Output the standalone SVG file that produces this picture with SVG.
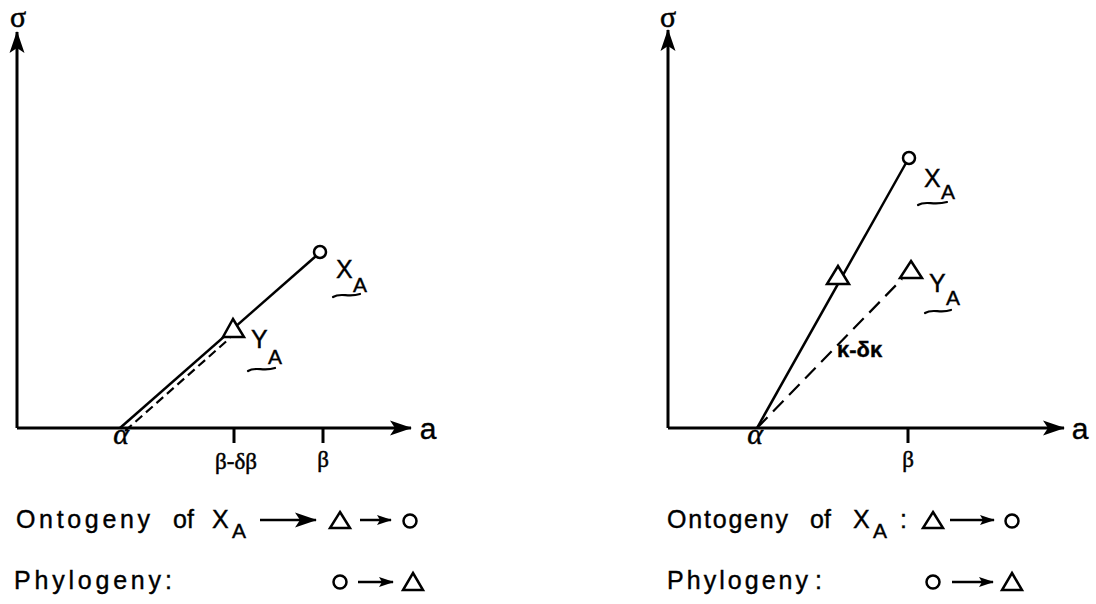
<svg xmlns="http://www.w3.org/2000/svg" width="1096" height="604" viewBox="0 0 1096 604">
<style>
.ax{stroke:#000;stroke-width:3;fill:none}
.ln{stroke:#000;stroke-width:2.5;fill:none}
.dash{stroke:#000;stroke-width:2.2;fill:none}
.sym{stroke:#000;stroke-width:2.5;fill:#fff}
.t{font-family:"Liberation Sans",Arial,sans-serif;fill:#000;stroke:#000;stroke-width:0.4}
.g{font-family:"Liberation Serif","DejaVu Serif",serif;fill:#000;stroke:#000;stroke-width:0.5}
.tl{stroke:#000;stroke-width:2.2;fill:none;stroke-linecap:round}
</style>
<defs>
<marker id="axA" markerUnits="userSpaceOnUse" markerWidth="24" markerHeight="16" refX="21" refY="8" orient="auto">
<path d="M0,0.5 L22,8 L0,15.5 L5,8 Z" fill="#000"/>
</marker>
<marker id="smA" markerUnits="userSpaceOnUse" markerWidth="16" markerHeight="12" refX="14" refY="6" orient="auto">
<path d="M0,1 L15,6 L0,11 L3,6 Z" fill="#000"/>
</marker>
</defs>
<rect width="1096" height="604" fill="#fff"/>

<g id="left-axes">
<line class="ax" x1="17" y1="428" x2="17" y2="32" marker-end="url(#axA)"/>
<line class="ax" x1="17" y1="428" x2="411" y2="428" marker-end="url(#axA)"/>
<line class="ax" x1="234" y1="428" x2="234" y2="443"/>
<line class="ax" x1="323" y1="428" x2="323" y2="443"/>
<text class="g" x="18" y="27" font-size="30" text-anchor="middle">σ</text>
<text class="t" x="428" y="439" font-size="30" text-anchor="middle">a</text>
<text class="g" x="121" y="444" font-size="30" font-style="italic" text-anchor="middle">α</text>
<text class="g" x="236" y="469" font-size="23" text-anchor="middle">β-δβ</text>
<text class="g" x="323" y="467" font-size="23" text-anchor="middle">β</text>
</g>

<g id="left-lines">
<line class="ln" x1="120" y1="428" x2="316" y2="256"/>
<line class="dash" x1="125" y1="431" x2="230" y2="338" stroke-dasharray="9,5"/>
</g>

<g id="left-XA">
<circle class="sym" cx="320" cy="252" r="6"/>
<text class="t" x="336" y="278" font-size="25">X</text>
<text class="t" x="353" y="292" font-size="21">A</text>
<path class="tl" d="M333,297 C341,292 348,298 360,294"/>
</g>

<g id="left-YA">
<polygon class="sym" points="233,319 244,337 223,337"/>
<text class="t" x="251" y="348" font-size="25">Y</text>
<text class="t" x="268" y="364" font-size="21">A</text>
<path class="tl" d="M248,371 C256,366 263,372 275,368"/>
</g>

<g id="left-legend">
<text class="t" x="16" y="528" font-size="25" textLength="134" lengthAdjust="spacing">Ontogeny</text>
<text class="t" x="173" y="528" font-size="25">of</text>
<text class="t" x="212" y="528" font-size="25">X</text>
<text class="t" x="232" y="538" font-size="21">A</text>
<line class="ln" x1="260" y1="520" x2="316" y2="520" stroke-width="2" marker-end="url(#axA)"/>
<polygon class="sym" stroke-width="2" points="340,512 350,528 330,528"/>
<line class="ln" x1="360" y1="520" x2="391" y2="520" stroke-width="2" marker-end="url(#smA)"/>
<circle class="sym" cx="410" cy="521" r="6.5" stroke-width="3"/>
<text class="t" x="14" y="589" font-size="25" textLength="147" lengthAdjust="spacing">Phylogeny</text>
<text class="t" x="165" y="589" font-size="25">:</text>
<circle class="sym" cx="340" cy="582" r="6.5" stroke-width="3"/>
<line class="ln" x1="358" y1="582" x2="393" y2="582" stroke-width="2" marker-end="url(#smA)"/>
<polygon class="sym" stroke-width="2" points="413,573 423,590 403,590"/>
</g>

<g id="right-axes">
<line class="ax" x1="668" y1="428" x2="668" y2="30" marker-end="url(#axA)"/>
<line class="ax" x1="668" y1="428" x2="1064" y2="428" marker-end="url(#axA)"/>
<line class="ax" x1="908" y1="428" x2="908" y2="443"/>
<text class="g" x="668" y="27" font-size="30" text-anchor="middle">σ</text>
<text class="t" x="1080" y="439" font-size="30" text-anchor="middle">a</text>
<text class="g" x="755" y="444" font-size="30" font-style="italic" text-anchor="middle">α</text>
<text class="g" x="908" y="467" font-size="23" text-anchor="middle">β</text>
<text class="t" x="837" y="357" font-size="22" font-weight="bold">κ-δκ</text>
</g>

<g id="right-lines">
<line class="ln" x1="757" y1="428" x2="906" y2="163"/>
<line class="dash" x1="757" y1="428" x2="902" y2="279" stroke-dasharray="15,8"/>
</g>

<g id="right-XA">
<circle class="sym" cx="909" cy="158" r="6"/>
<text class="t" x="924" y="187" font-size="25">X</text>
<text class="t" x="941" y="199" font-size="21">A</text>
<path class="tl" d="M918,205 C926,200 933,206 947,202"/>
</g>

<g id="right-YA-mid">
<polygon class="sym" points="838,266 849,284 827,284"/>
</g>

<g id="right-YA">
<polygon class="sym" points="911,261 922,278 900,278"/>
<text class="t" x="929" y="292" font-size="25">Y</text>
<text class="t" x="946" y="305" font-size="21">A</text>
<path class="tl" d="M925,313 C933,308 940,314 951,310"/>
</g>

<g id="right-legend">
<text class="t" x="667" y="528" font-size="25" textLength="121" lengthAdjust="spacing">Ontogeny</text>
<text class="t" x="810" y="528" font-size="25">of</text>
<text class="t" x="853" y="528" font-size="25">X</text>
<text class="t" x="873" y="538" font-size="21">A</text>
<text class="t" x="900" y="528" font-size="25">:</text>
<polygon class="sym" stroke-width="2" points="933,512 943,528 923,528"/>
<line class="ln" x1="950" y1="520" x2="994" y2="520" stroke-width="2" marker-end="url(#smA)"/>
<circle class="sym" cx="1012" cy="521" r="6.5" stroke-width="3"/>
<text class="t" x="667" y="589" font-size="25" textLength="141" lengthAdjust="spacing">Phylogeny</text>
<text class="t" x="815" y="589" font-size="25">:</text>
<circle class="sym" cx="933" cy="582" r="6.5" stroke-width="3"/>
<line class="ln" x1="952" y1="582" x2="993" y2="582" stroke-width="2" marker-end="url(#smA)"/>
<polygon class="sym" stroke-width="2" points="1012,573 1022,590 1002,590"/>
</g>
</svg>
